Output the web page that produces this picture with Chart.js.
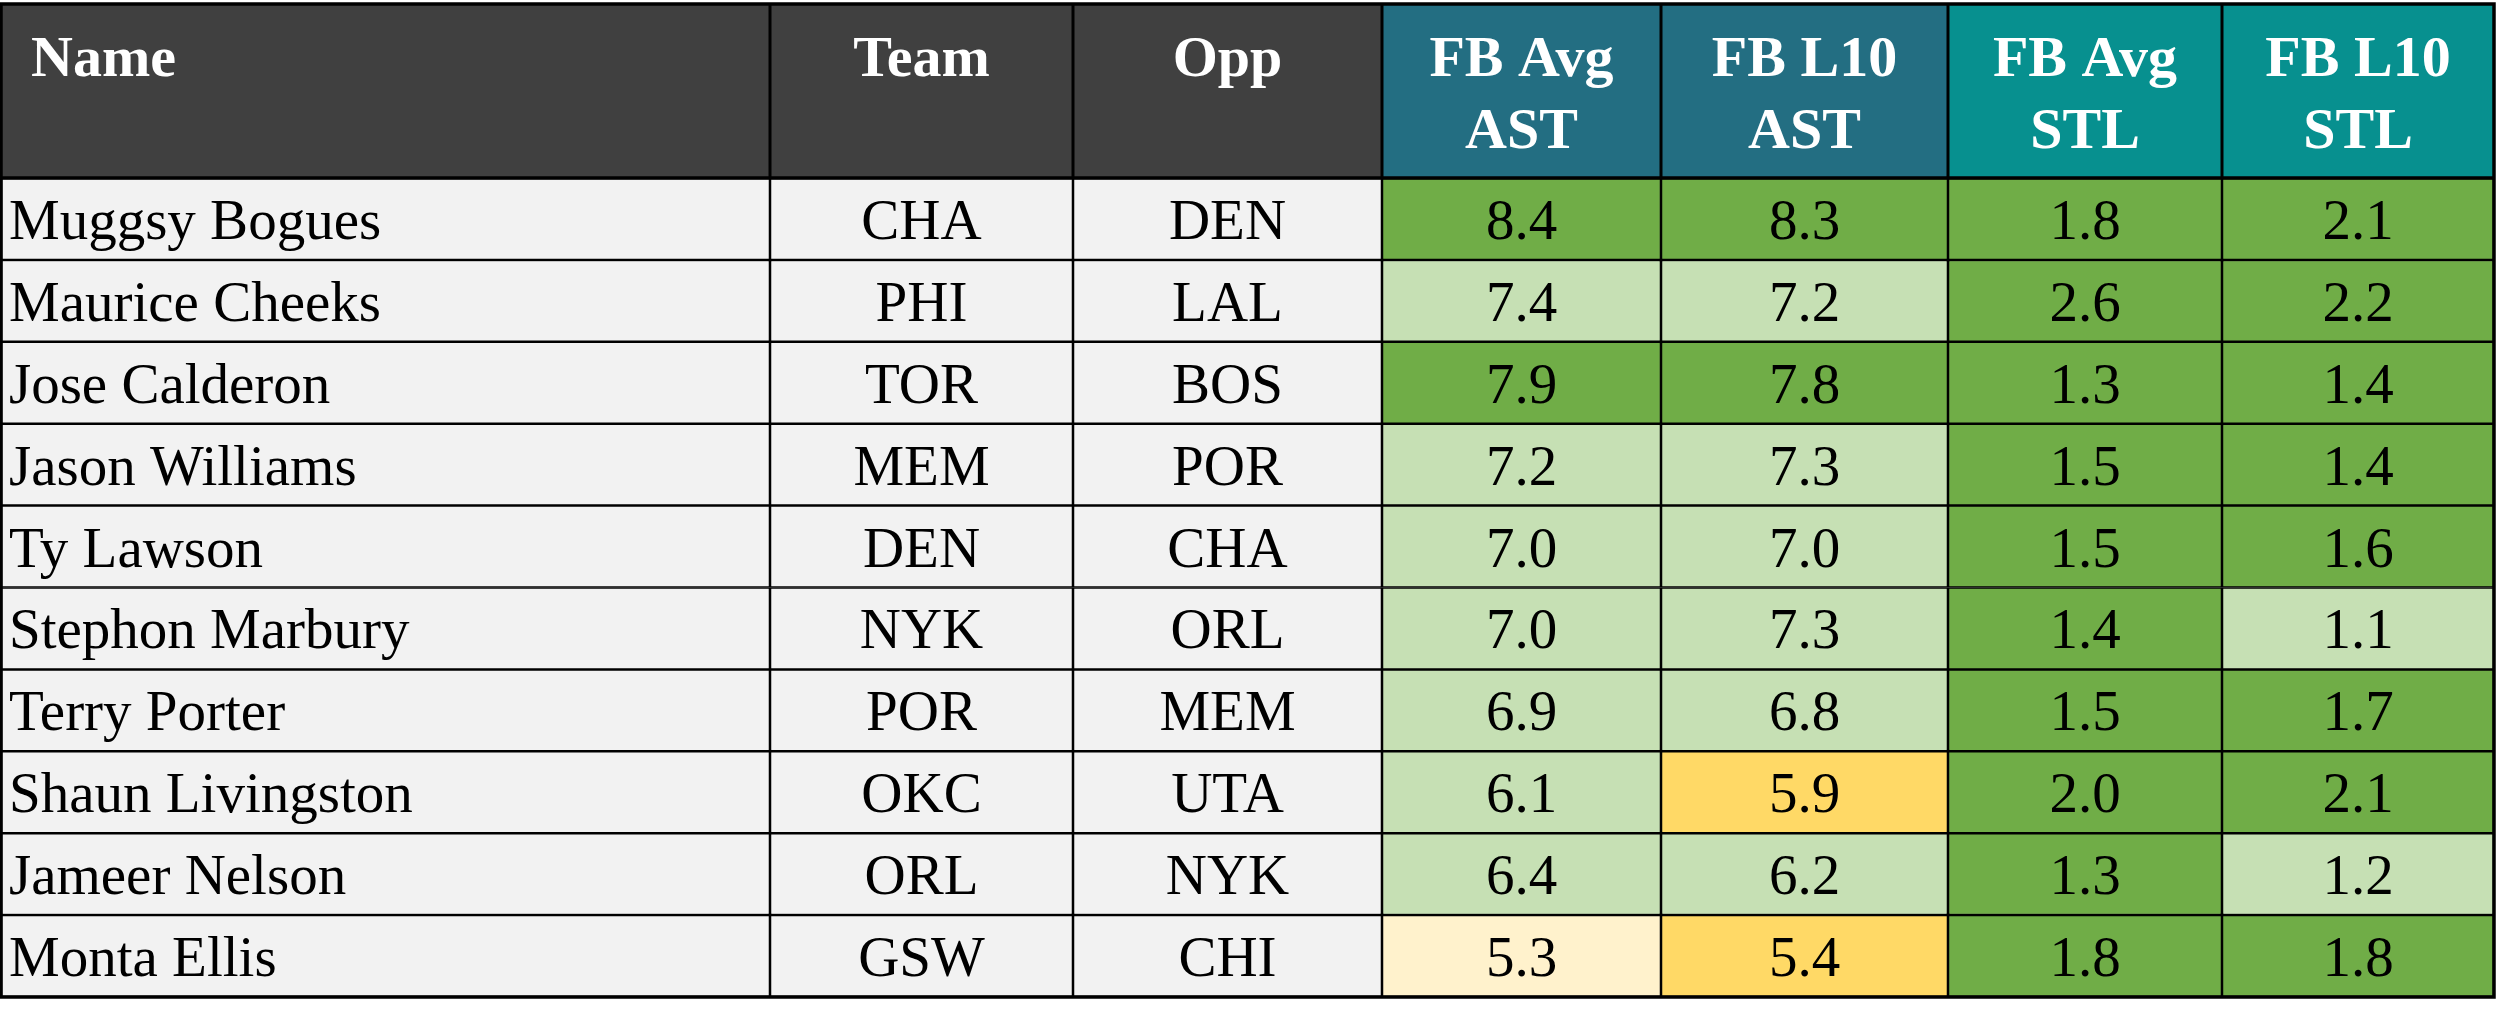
<!DOCTYPE html>
<html>
<head>
<meta charset="utf-8">
<script src="https://cdn.jsdelivr.net/npm/chart.js@4.4.0/dist/chart.umd.min.js"></script>
<style>
html,body{margin:0;padding:0;background:#ffffff;overflow:hidden;}
#wrap{width:2500px;height:1030px;}
canvas{display:block;}
</style>
</head>
<body>
<div id="wrap"><canvas id="c" width="2500" height="1030"></canvas></div>
<script>
// ---------- data ----------
const headers = [['Name'], ['Team'], ['Opp'], ['FB Avg', 'AST'], ['FB L10', 'AST'], ['FB Avg', 'STL'], ['FB L10', 'STL']];
const names = ['Muggsy Bogues', 'Maurice Cheeks', 'Jose Calderon', 'Jason Williams', 'Ty Lawson',
               'Stephon Marbury', 'Terry Porter', 'Shaun Livingston', 'Jameer Nelson', 'Monta Ellis'];
const teams = ['CHA', 'PHI', 'TOR', 'MEM', 'DEN', 'NYK', 'POR', 'OKC', 'ORL', 'GSW'];
const opps  = ['DEN', 'LAL', 'BOS', 'POR', 'CHA', 'ORL', 'MEM', 'UTA', 'NYK', 'CHI'];
const fbAvgAst = [8.4, 7.4, 7.9, 7.2, 7.0, 7.0, 6.9, 6.1, 6.4, 5.3];
const fbL10Ast = [8.3, 7.2, 7.8, 7.3, 7.0, 7.3, 6.8, 5.9, 6.2, 5.4];
const fbAvgStl = [1.8, 2.6, 1.3, 1.5, 1.5, 1.4, 1.5, 2.0, 1.3, 1.8];
const fbL10Stl = [2.1, 2.2, 1.4, 1.4, 1.6, 1.1, 1.7, 2.1, 1.2, 1.8];

// ---------- layout & style (not data) ----------
const colWidths = [769, 303, 309, 279, 287, 274, 272];
const headerFills = ['#404040', '#404040', '#404040', '#236E82', '#236E82', '#07908F', '#07908F'];
const tierColors = { dg: '#70AD47', lg: '#C6E0B4', gold: '#FFD966', ly: '#FFF2CC', plain: '#F2F2F2' };
const tierAvgAst = ['dg','lg','dg','lg','lg','lg','lg','lg','lg','ly'];
const tierL10Ast = ['dg','lg','dg','lg','lg','lg','lg','gold','lg','gold'];
const tierAvgStl = ['dg','dg','dg','dg','dg','dg','dg','dg','dg','dg'];
const tierL10Stl = ['dg','dg','dg','dg','dg','lg','dg','dg','lg','dg'];
const tierPlain = names.map(() => 'plain');

const columnsText = [
  names, teams, opps,
  fbAvgAst.map(v => v.toFixed(1)),
  fbL10Ast.map(v => v.toFixed(1)),
  fbAvgStl.map(v => v.toFixed(1)),
  fbL10Stl.map(v => v.toFixed(1))
];
const columnTiers = [tierPlain, tierPlain, tierPlain, tierAvgAst, tierL10Ast, tierAvgStl, tierL10Stl];

const edges = [0];
colWidths.forEach(w => edges.push(edges[edges.length - 1] + w));

const BODY_FONT = '57px "Liberation Serif", "DejaVu Serif", serif';
const HEAD_FONT = 'bold 58px "Liberation Serif", "DejaVu Serif", serif';
const TABLE_TOP = 4;

const datasets = columnsText.map((col, k) => ({
  label: headers[k].join(' '),
  data: names.map(() => [edges[k], edges[k + 1]]),
  backgroundColor: columnTiers[k].map(t => tierColors[t]),
  borderColor: '#000000',
  borderWidth: 1.6,
  borderSkipped: false,
  grouped: false,
  barPercentage: 1,
  categoryPercentage: 1
}));

const tablePlugin = {
  id: 'tableText',
  afterDatasetsDraw(chart) {
    const ctx = chart.ctx;
    const xs = chart.scales.x;
    const ca = chart.chartArea;
    ctx.save();
    // header cells
    for (let k = 0; k < headers.length; k++) {
      const x0 = xs.getPixelForValue(edges[k]);
      const x1 = xs.getPixelForValue(edges[k + 1]);
      ctx.fillStyle = headerFills[k];
      ctx.fillRect(x0, TABLE_TOP, x1 - x0, ca.top - TABLE_TOP);
      ctx.fillStyle = '#ffffff';
      ctx.font = HEAD_FONT;
      ctx.textBaseline = 'alphabetic';
      headers[k].forEach((line, j) => {
        const y = TABLE_TOP + 72 + j * 72;
        if (k === 0) {
          ctx.textAlign = 'left';
          ctx.fillText(line, x0 + 30, y);
        } else {
          ctx.textAlign = 'center';
          ctx.fillText(line, (x0 + x1) / 2, y);
        }
      });
    }
    // body text
    ctx.fillStyle = '#000000';
    ctx.font = BODY_FONT;
    for (let k = 0; k < columnsText.length; k++) {
      const meta = chart.getDatasetMeta(k);
      meta.data.forEach((el, i) => {
        const left = Math.min(el.x, el.base);
        const right = Math.max(el.x, el.base);
        const y = el.y + 20;
        if (k === 0) {
          ctx.textAlign = 'left';
          ctx.fillText(columnsText[k][i], left + 8, y);
        } else {
          ctx.textAlign = 'center';
          ctx.fillText(columnsText[k][i], (left + right) / 2, y);
        }
      });
    }
    // grid lines for header + outer frame
    ctx.strokeStyle = '#000000';
    ctx.lineWidth = 3;
    for (let k = 1; k < headers.length; k++) {
      const x = xs.getPixelForValue(edges[k]);
      ctx.beginPath();
      ctx.moveTo(x, TABLE_TOP);
      ctx.lineTo(x, ca.top);
      ctx.stroke();
    }
    ctx.lineWidth = 3.5;
    ctx.beginPath();
    ctx.moveTo(xs.getPixelForValue(edges[0]), ca.top);
    ctx.lineTo(xs.getPixelForValue(edges[edges.length - 1]), ca.top);
    ctx.stroke();
    const fx0 = xs.getPixelForValue(edges[0]);
    const fx1 = xs.getPixelForValue(edges[edges.length - 1]);
    ctx.strokeRect(fx0, TABLE_TOP, fx1 - fx0, ca.bottom - TABLE_TOP);
    ctx.restore();
  }
};

new Chart(document.getElementById('c'), {
  type: 'bar',
  data: { labels: names, datasets },
  options: {
    indexAxis: 'y',
    responsive: false,
    animation: false,
    devicePixelRatio: 1,
    layout: { padding: { top: 178, bottom: 33, left: 1, right: 6 } },
    scales: {
      x: { type: 'linear', min: edges[0], max: edges[edges.length - 1], display: false },
      y: { type: 'category', offset: true, display: false }
    },
    plugins: { legend: { display: false }, tooltip: { enabled: false } }
  },
  plugins: [tablePlugin]
});
</script>
</body>
</html>
